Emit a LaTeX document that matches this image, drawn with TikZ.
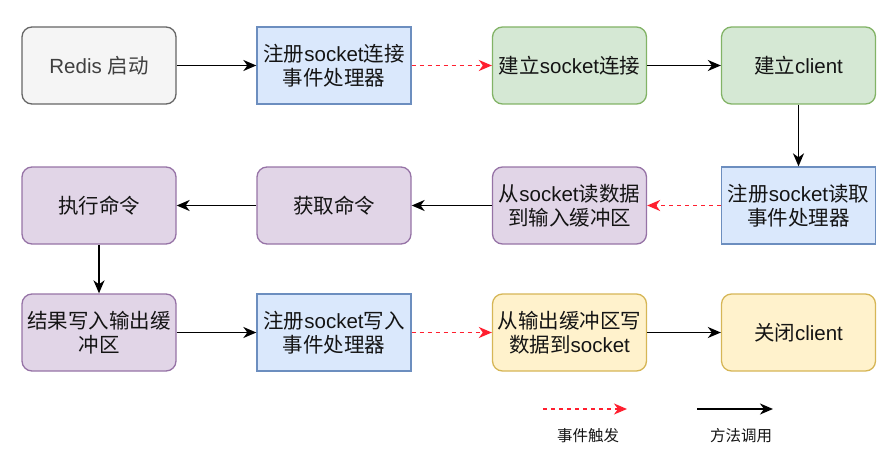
\documentclass[tikz,border=0pt]{standalone}
\usepackage{fontspec}
\setmainfont{Liberation Sans}
\newfontfamily\cjk{Noto Sans CJK SC}
\usetikzlibrary{arrows.meta}
\definecolor{grayF}{HTML}{F5F5F5}\definecolor{grayD}{HTML}{666666}
\definecolor{blueF}{HTML}{DAE8FC}\definecolor{blueD}{HTML}{6C8EBF}
\definecolor{greenF}{HTML}{D5E8D4}\definecolor{greenD}{HTML}{82B366}
\definecolor{purpF}{HTML}{E1D5E7}\definecolor{purpD}{HTML}{9673A6}
\definecolor{yelF}{HTML}{FFF2CC}\definecolor{yelD}{HTML}{D6B656}
\definecolor{evred}{HTML}{FF1F2F}
\definecolor{txt}{HTML}{141414}
\tikzset{
  box/.style={minimum width=154pt, minimum height=77pt, inner sep=0pt, line width=1.3pt,
    align=center, font=\fontsize{20.5}{24}\selectfont, text=txt},
  rbox/.style={box, rounded corners=10pt},
  gbox/.style={rbox, fill=grayF, draw=grayD, text=black!75},
  bbox/.style={box, fill=blueF, draw=blueD},
  grbox/.style={rbox, fill=greenF, draw=greenD},
  pbox/.style={rbox, fill=purpF, draw=purpD},
  ybox/.style={rbox, fill=yelF, draw=yelD},
  call/.style={line width=1.7pt, -{Stealth[length=13pt,width=11pt,inset=4pt]}, black},
  ev/.style={line width=1.5pt, evred, dash pattern=on 4pt off 4pt, -{Stealth[length=13pt,width=11pt,inset=4pt]}},
  lbl/.style={font=\fontsize{15.5}{18}\selectfont, text=txt}
}
\begin{document}
\begin{tikzpicture}[x=1pt,y=-1pt]
\useasboundingbox (0,0) rectangle (896,468);
\node[gbox]  (redis) at (99,65.5) {Redis {\cjk 启动}};
\node[bbox]  (regc)  at (334,65.5) {{\cjk 注册}socket{\cjk 连接}\\{\cjk 事件处理器}};
\node[grbox] (conn)  at (569.5,65.5) {{\cjk 建立}socket{\cjk 连接}};
\node[grbox] (cli)   at (798.5,65.5) {{\cjk 建立}client};
\node[pbox]  (exec)  at (99,205.5) {{\cjk 执行命令}};
\node[pbox]  (get)   at (334,205.5) {{\cjk 获取命令}};
\node[pbox]  (read)  at (569.5,205.5) {{\cjk 从}socket{\cjk 读数据}\\{\cjk 到输入缓冲区}};
\node[bbox]  (regr)  at (798.5,205.5) {{\cjk 注册}socket{\cjk 读取}\\{\cjk 事件处理器}};
\node[pbox]  (res)   at (99,332.5) {{\cjk 结果写入输出缓}\\{\cjk 冲区}};
\node[bbox]  (regw)  at (334,332.5) {{\cjk 注册}socket{\cjk 写入}\\{\cjk 事件处理器}};
\node[ybox]  (write) at (569.5,332.5) {{\cjk 从输出缓冲区写}\\{\cjk 数据到}socket};
\node[ybox]  (close) at (798.5,332.5) {{\cjk 关闭}client};

\draw[call] (redis) -- (regc);
\draw[ev]   (regc) -- (conn);
\draw[call] (conn) -- (cli);
\draw[call] (cli) -- (regr);
\draw[ev]   (regr) -- (read);
\draw[call] (read) -- (get);
\draw[call] (get) -- (exec);
\draw[call] (exec) -- (res);
\draw[call] (res) -- (regw);
\draw[ev]   (regw) -- (write);
\draw[call] (write) -- (close);

\coordinate (e1) at (543,409); \coordinate (e2) at (627,409);
\coordinate (c1) at (697,409); \coordinate (c2) at (773,409);
\draw[ev] (e1) -- (e2);
\draw[call] (c1) -- (c2);
\node[lbl] (le) at (588,436) {\cjk 事件触发};
\node[lbl] (lc) at (741,436) {\cjk 方法调用};
\end{tikzpicture}
\end{document}
